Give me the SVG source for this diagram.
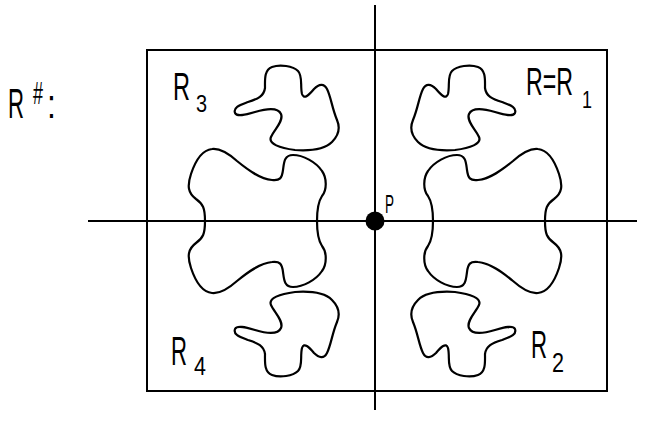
<svg xmlns="http://www.w3.org/2000/svg" xmlns:xlink="http://www.w3.org/1999/xlink" width="659" height="439" viewBox="0 0 659 439">
<style>
.ln{stroke:#000;stroke-width:2;fill:none}
.bl{stroke:#000;stroke-width:2.2;fill:none;stroke-linejoin:round;stroke-linecap:round}
.t{font-family:"Liberation Sans","DejaVu Sans",sans-serif;fill:#000}
</style>
<defs>
<path id="small" class="bl" d="M 413,120 C 418,108 419,97 423,89 C 426,83 431,84 436,89 C 441,95 446,100 448,94 C 450,86 447,76 452,71 C 457,66 470,64 478,67 C 486,70 485,80 485,88 C 486,96 492,99 502,102 C 510,105 517,107 515,113 C 513,117 505,115 495,112 C 485,109 472,107 469,114 C 466,121 476,130 479,137 C 482,144 470,148 455,150 C 440,151 425,149 418,142 C 411,135 410,127 413,120 Z"/>
<path id="bigTop" class="bl" d="M 433,221 C 433,210 432,202 428,196 C 423,190 423,178 428,171 C 434,162 447,155 457,155 C 466,155 466,163 467,170 C 468,178 470,181 478,180 C 490,179 502,170 513,161 C 522,153 530,148 538,149 C 548,150 555,162 559,174 C 563,186 562,193 554,199 C 547,204 545,208 545,221"/>
<g id="quad">
<use xlink:href="#small"/>
<use xlink:href="#bigTop"/>
</g>
</defs>
<g id="axes" class="ln">
<rect x="147" y="50" width="460" height="341"/>
<line x1="375" y1="5" x2="375" y2="410"/>
<line x1="88" y1="221" x2="637" y2="221"/>
</g>
<g id="R1"><use xlink:href="#quad"/></g>
<g id="R2"><use xlink:href="#quad" transform="matrix(1,0,0,-1,0,442)"/></g>
<g id="R3"><use xlink:href="#quad" transform="matrix(-1,0,0,1,750,0)"/></g>
<g id="R4"><use xlink:href="#quad" transform="matrix(-1,0,0,-1,750,442)"/></g>
<g id="P">
<circle cx="375" cy="221" r="9.5" fill="#000"/>
<text class="t" transform="translate(385,213) scale(0.54,1)" font-size="25">P</text>
</g>
<g id="labels">
<text class="t" transform="translate(8,118) scale(0.516,1)" font-size="43">R</text>
<text class="t" transform="translate(33,104) scale(0.56,1)" font-size="32">#</text>
<text class="t" transform="translate(47,118) scale(0.8,1)" font-size="40">:</text>
<text class="t" transform="translate(173,100) scale(0.62,1)" font-size="38">R</text>
<text class="t" transform="translate(196,112) scale(0.83,1)" font-size="24">3</text>
<text class="t" transform="translate(526,95) scale(0.594,1)" font-size="39">R=R</text>
<text class="t" transform="translate(582,108) scale(0.78,1)" font-size="23">1</text>
<text class="t" transform="translate(171,365) scale(0.54,1)" font-size="41">R</text>
<text class="t" transform="translate(194,375) scale(0.86,1)" font-size="25">4</text>
<text class="t" transform="translate(531,358) scale(0.57,1)" font-size="39">R</text>
<text class="t" transform="translate(552,372) scale(0.8,1)" font-size="27">2</text>
</g>
</svg>
